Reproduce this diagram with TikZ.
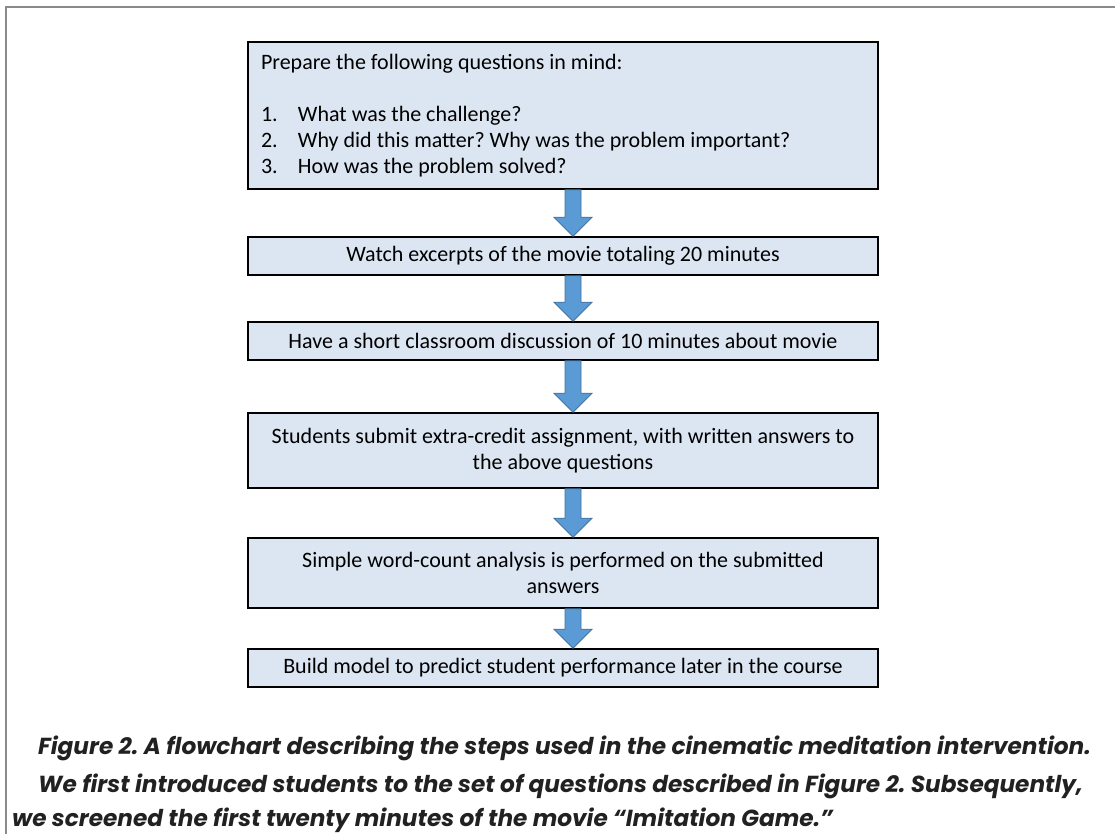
\documentclass[tikz,border=0pt]{standalone}
\usepackage{fontspec}
\setmainfont{Carlito}
\newfontfamily\capfont{Poppins}
\usetikzlibrary{positioning,calc}
\definecolor{boxblue}{HTML}{DCE6F2}
\definecolor{arrowblue}{HTML}{5B9BD5}
\definecolor{arrowedge}{HTML}{41719C}
\definecolor{framegray}{HTML}{8A8A8A}
\tikzset{
    stepbox/.style={rectangle,draw=black,fill=boxblue,line width=1.6pt,minimum width=630pt,
        inner sep=0pt,align=center,font=\frenchspacing\fontsize{22}{26}\selectfont},
    blockarrow/.style={fill=arrowblue,draw=arrowedge,line width=0.8pt,
        to path={let \p1=(\tikztostart), \p2=(\tikztotarget) in
            (\x1-8pt,\y1) -- (\x1+8pt,\y1) -- (\x1+8pt,\y2+19pt) -- (\x1+19pt,\y2+19pt)
            -- (\x1,\y2) -- (\x1-19pt,\y2+19pt) -- (\x1-8pt,\y2+19pt) -- cycle}},
    caption/.style={anchor=base west,inner sep=0pt,text=black!87,
        font=\capfont\bfseries\itshape\frenchspacing\fontsize{23.2}{28}\selectfont},
    frame/.style={draw=framegray,line width=1.5pt},
}
\begin{document}
\begin{tikzpicture}[x=1pt,y=-1pt]
    \useasboundingbox (0,0) rectangle (1115,834);
    \draw[frame] (6,834) -- (6,7) -- (1115,7);

    \coordinate (axis) at (573,0);
    \node[stepbox,minimum height=147pt,align=flush left,text width=604pt] (prep) at (563,115.5)
        {Prepare the following questions in mind:\\[26pt]
         \makebox[37pt][l]{1.}What was the challenge?\\
         \makebox[37pt][l]{2.}Why did this matter? Why was the problem important?\\
         \makebox[37pt][l]{3.}How was the problem solved?};
    \node[stepbox,minimum height=38pt] (watch) at (563,256)
        {Watch excerpts of the movie totaling 20 minutes};
    \node[stepbox,minimum height=38pt] (discuss) at (563,341)
        {Have a short classroom discussion of 10 minutes about movie};
    \node[stepbox,minimum height=75pt] (submit) at (563,450.5)
        {Students submit extra-credit assignment, with written answers to\\the above questions};
    \node[stepbox,minimum height=70pt] (count) at (563,573)
        {Simple word-count analysis is performed on the submitted\\answers};
    \node[stepbox,minimum height=38pt] (model) at (563,668)
        {Build model to predict student performance later in the course};

    \draw[blockarrow] (prep.south -| axis) to (watch.north -| axis);
    \draw[blockarrow] (watch.south -| axis) to (discuss.north -| axis);
    \draw[blockarrow] (discuss.south -| axis) to (submit.north -| axis);
    \draw[blockarrow] (submit.south -| axis) to (count.north -| axis);
    \draw[blockarrow] (count.south -| axis) to (model.north -| axis);

    \node[caption] (cap1) at (38,754) {Figure 2. A flowchart describing the steps used in the cinematic meditation intervention.};
    \node[caption] (cap2) at (38,792) {We first introduced students to the set of questions described in Figure 2. Subsequently,};
    \node[caption] (cap3) at (12,826) {we screened the first twenty minutes of the movie “Imitation Game.”};
\end{tikzpicture}
\end{document}
